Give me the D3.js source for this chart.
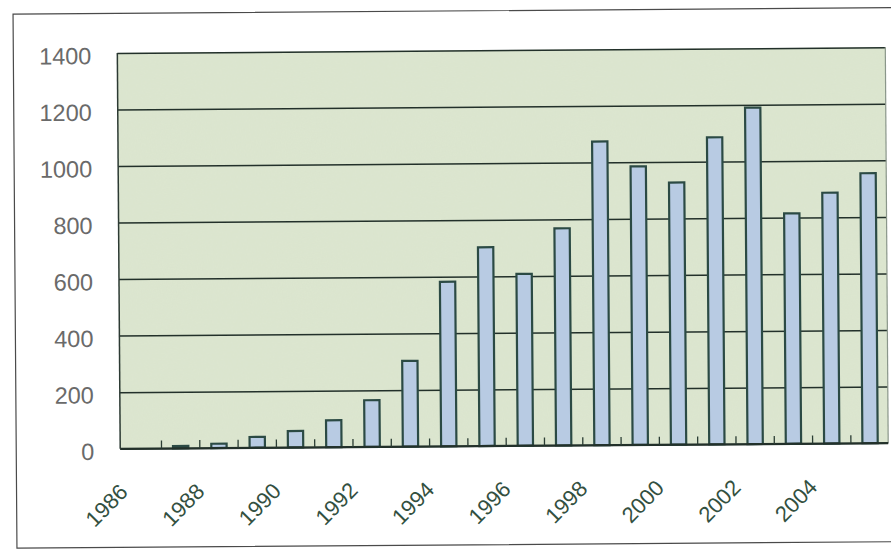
<!DOCTYPE html>
<html>
<head>
<meta charset="utf-8">
<script src="https://cdn.jsdelivr.net/npm/d3@7/dist/d3.min.js"></script>
<style>
  html, body { margin: 0; padding: 0; background: #ffffff; }
  svg { display: block; }
</style>
</head>
<body>
<svg id="chart" width="891" height="553"></svg>
<script>
// Annual counts, 1986–2005
const years = [1986, 1987, 1988, 1989, 1990, 1991, 1992, 1993, 1994, 1995,
               1996, 1997, 1998, 1999, 2000, 2001, 2002, 2003, 2004, 2005];
const counts = [0, 8, 15, 38, 58, 95, 165, 303, 582, 703,
                608, 768, 1074, 985, 927, 1086, 1190, 815, 887, 955];
const yTicks = [0, 200, 400, 600, 800, 1000, 1200, 1400];
const xLabels = [1986, 1988, 1990, 1992, 1994, 1996, 1998, 2000, 2002, 2004];

const plot = { left: 119, right: 887, top: 50.5, bottom: 446.3 };

const svg = d3.select("#chart");

const defs = svg.append("defs");
// fine paper grain for the plot background
const grain = defs.append("filter").attr("id", "grain")
  .attr("x", 0).attr("y", 0).attr("width", 1).attr("height", 1);
grain.append("feTurbulence").attr("type", "fractalNoise")
  .attr("baseFrequency", 0.8).attr("numOctaves", 2).attr("seed", 4).attr("result", "n");
grain.append("feColorMatrix").attr("in", "n").attr("type", "matrix")
  .attr("values", "0 0 0 0 0.55  0 0 0 0 0.6  0 0 0 0 0.5  0 0 0 0.14 0").attr("result", "g");
grain.append("feComposite").attr("in", "g").attr("in2", "SourceGraphic").attr("operator", "in");

const root = svg.append("g").attr("transform", "rotate(-0.42, 445, 280)");

// outer chart frame
root.append("rect")
  .attr("x", 15).attr("y", 11).attr("width", 900).attr("height", 534)
  .attr("fill", "#ffffff").attr("stroke", "#4a4a4a").attr("stroke-width", 1.2);

const x = d3.scaleBand()
  .domain(years)
  .range([122, 888])
  .paddingInner(0.6)
  .paddingOuter(0.3);

const y = d3.scaleLinear()
  .domain([0, 1400])
  .range([plot.bottom, plot.top]);

// plot area
root.append("rect")
  .attr("x", plot.left).attr("y", plot.top)
  .attr("width", plot.right - plot.left).attr("height", plot.bottom - plot.top)
  .attr("fill", "#dde7d0");
root.append("rect")
  .attr("x", plot.left).attr("y", plot.top)
  .attr("width", plot.right - plot.left).attr("height", plot.bottom - plot.top)
  .attr("fill", "#dde7d0").attr("filter", "url(#grain)");

// horizontal gridlines and value labels
const yAxis = root.append("g")
  .attr("transform", `translate(${plot.left},0)`)
  .call(d3.axisLeft(y).tickValues(yTicks).tickFormat(d3.format("d"))
    .tickSize(-(plot.right - plot.left)).tickPadding(26));
yAxis.select(".domain").remove();
yAxis.selectAll(".tick line")
  .attr("stroke", "#22302a").attr("stroke-width", 1.5);
yAxis.selectAll(".tick text")
  .attr("fill", "#6a6a6a")
  .attr("dy", "0.45em")
  .style("font-family", "'Liberation Sans', Arial, sans-serif")
  .style("font-size", "23.5px");

// plot border
root.append("line")
  .attr("x1", plot.left).attr("x2", plot.left).attr("y1", plot.top).attr("y2", plot.bottom)
  .attr("stroke", "#2c3a33").attr("stroke-width", 1.5);
root.append("line")
  .attr("x1", plot.right).attr("x2", plot.right).attr("y1", plot.top).attr("y2", plot.bottom)
  .attr("stroke", "#8a968a").attr("stroke-width", 1.2);

// bars
root.append("g").selectAll("rect")
  .data(years.map((yr, i) => ({ yr, v: counts[i] })))
  .join("rect")
  .attr("x", d => x(d.yr))
  .attr("y", d => y(d.v))
  .attr("width", x.bandwidth())
  .attr("height", d => y(0) - y(d.v))
  .attr("fill", "#b8cbe3")
  .attr("stroke", "#2b4a44")
  .attr("stroke-width", 2.2);

// category axis line with inward ticks at category boundaries
root.append("line")
  .attr("x1", plot.left).attr("x2", plot.right).attr("y1", y(0)).attr("y2", y(0))
  .attr("stroke", "#22302a").attr("stroke-width", 2);
const step = x.step();
root.append("g").selectAll("line")
  .data(years.slice(1))
  .join("line")
  .attr("x1", d => x(d) + x.bandwidth() / 2 - step / 2)
  .attr("x2", d => x(d) + x.bandwidth() / 2 - step / 2)
  .attr("y1", y(0)).attr("y2", y(0) - 8)
  .attr("stroke", "#2b3d34").attr("stroke-width", 1.3);

// rotated year labels
root.append("g").selectAll("text")
  .data(xLabels)
  .join("text")
  .attr("transform", d => `translate(${x(d) + x.bandwidth() / 2 - 13.5},491) rotate(-45)`)
  .attr("text-anchor", "end")
  .attr("fill", "#33503f")
  .style("font-family", "'Liberation Sans', Arial, sans-serif")
  .style("font-size", "22px")
  .text(d => d);
</script>
</body>
</html>
